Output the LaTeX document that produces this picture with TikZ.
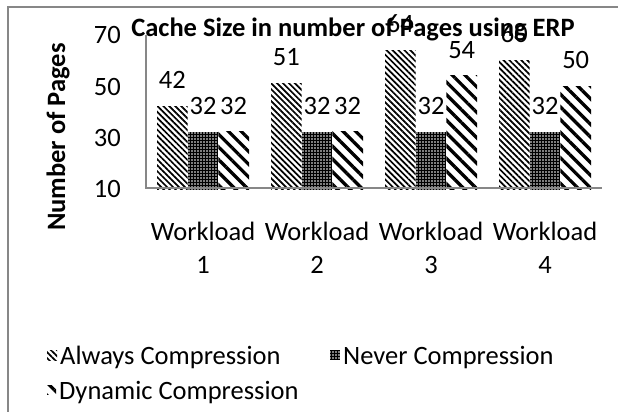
\documentclass[tikz,border=0pt]{standalone}
\usepackage{fontspec}
\setmainfont{Carlito}
\usetikzlibrary{patterns.meta}

\definecolor{framegray}{HTML}{878787}

\begin{document}
\begin{tikzpicture}[x=1pt, y=-1pt,
  font=\fontsize{26.5}{32}\selectfont,
  alwaysfill/.style={pattern={Lines[angle=-45,distance=4.2pt,line width=1.7pt]}},
  neverfill/.style={fill=black, postaction={pattern={Dots[distance=3pt,radius=0.8pt]}, pattern color=white}},
  dynfill/.style={pattern={Lines[angle=-45,distance=9pt,line width=3.3pt]}},
  axisline/.style={draw=framegray, line width=1.5pt},
  frameline/.style={draw=framegray, line width=2pt},
  lbl/.style={inner sep=0pt, anchor=base},
  boldlbl/.style={inner sep=0pt, font=\fontsize{26.5}{32}\selectfont\bfseries},
]
\useasboundingbox (0,0) rectangle (618,412);

% chart frame (cropped on the right and bottom)
\draw[frameline] (618,7) -- (8,7) -- (8,412);

% bars: Always / Never / Dynamic per workload
\foreach \i/\a/\n/\d in {0/42/32/32, 1/51/32/32, 2/64/32/54, 3/60/32/50} {
  \pgfmathsetmacro{\xa}{157+114*\i}
  \pgfmathsetmacro{\xb}{\xa+30.67}
  \pgfmathsetmacro{\xc}{\xb+30.67}
  \pgfmathsetmacro{\xd}{\xc+30.67}
  \pgfmathsetmacro{\ta}{188-(\a-10)*2.55}
  \pgfmathsetmacro{\tn}{188-(\n-10)*2.55}
  \pgfmathsetmacro{\td}{188-(\d-10)*2.55}
  \fill[alwaysfill] (\xa,189.5) rectangle (\xb,\ta);
  \fill[neverfill] (\xb,189.5) rectangle (\xc,\tn);
  \fill[dynfill] (\xc,189.5) rectangle (\xd,\td);
  \node[lbl] (va\i) at ({(\xa+\xb)/2},\ta-17.5) {\a};
  \node[lbl] (vn\i) at ({(\xb+\xc)/2},\tn-17.5) {\n};
  \node[lbl] (vd\i) at ({(\xc+\xd)/2},\td-17.5) {\d};
}

% axes
\draw[axisline] (146,35) -- (146,188) -- (602,188);

% value axis ticks
\foreach \v/\y in {70/35, 50/86, 30/137, 10/188}
  \node[inner sep=0pt, anchor=base east] (tick\v) at (121,\y+9) {\v};

% category labels
\foreach \k/\x in {1/203, 2/317, 3/431, 4/545} {
  \node[lbl] (cat\k) at (\x,240) {Workload};
  \node[lbl] (num\k) at (\x,273) {\k};
}

% titles
\node[boldlbl, anchor=base] (title) at (353,37) {Cache Size in number of Pages using ERP};
\node[boldlbl, rotate=90] (ytitle) at (58,137) {Number of Pages};

% legend
\fill[alwaysfill] (47,350) rectangle (57,360);
\node[lbl, anchor=base west] (legA) at (60,364) {Always Compression};
\fill[neverfill] (330,350) rectangle (340,360);
\node[lbl, anchor=base west] (legN) at (343,364) {Never Compression};
\fill[dynfill] (47,385) rectangle (56,394);
\node[lbl, anchor=base west] (legD) at (59,399) {Dynamic Compression};
\end{tikzpicture}
\end{document}
